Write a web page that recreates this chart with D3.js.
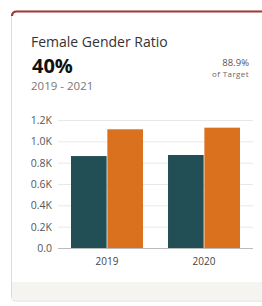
<!DOCTYPE html>
<html>
<head>
<meta charset="utf-8">
<script src="https://cdn.jsdelivr.net/npm/d3@7.9.0/dist/d3.min.js"></script>
<style>
  body { margin: 0; background: #fff; font-family: "Open Sans", "Noto Sans", sans-serif; }
  svg { display: block; }
</style>
</head>
<body>
<svg width="262" height="306"></svg>
<script>
// data
const years = ['2019', '2020'];
const series = ['Actual', 'Target'];
const actualValues = [862, 872];
const targetValues = [1113, 1128];
const yTicks = [0, 200, 400, 600, 800, 1000, 1200];
const yTickLabels = ['0.0', '0.2K', '0.4K', '0.6K', '0.8K', '1.0K', '1.2K'];

const colors = d3.scaleOrdinal().domain(series).range(['#214f55', '#d9711f']);

const svg = d3.select('svg');

// ── card ──────────────────────────────────────────────
svg.append('rect')
  .attr('x', 11.5).attr('y', 11).attr('width', 270).attr('height', 290)
  .attr('rx', 4)
  .attr('fill', '#fff').attr('stroke', '#dcdcdc');
svg.append('rect')
  .attr('x', 12).attr('y', 282).attr('width', 250).attr('height', 18)
  .attr('fill', '#f6f4f1');
svg.append('path')
  .attr('d', 'M12,16 Q12,11.5 17,11.5 L262,11.5')
  .attr('fill', 'none').attr('stroke', '#a3383b').attr('stroke-width', 2.2);

// header texts
svg.append('text').attr('x', 31).attr('y', 47)
  .attr('font-size', 14).attr('fill', '#333').text('Female Gender Ratio');
svg.append('text').attr('x', 32).attr('y', 73)
  .attr('font-size', 20).attr('font-weight', 'bold').attr('fill', '#111').text('40%');
svg.append('text').attr('x', 31).attr('y', 90)
  .attr('font-size', 11.5).attr('fill', '#777').text('2019 - 2021');
svg.append('text').attr('x', 249).attr('y', 66).attr('text-anchor', 'end')
  .attr('font-size', 9.5).attr('fill', '#555').text('88.9%');
svg.append('text').attr('x', 249).attr('y', 77).attr('text-anchor', 'end')
  .attr('font-size', 8).attr('letter-spacing', 0.4).attr('fill', '#666').text('of Target');

// ── chart ─────────────────────────────────────────────
const x0 = d3.scaleBand().domain(years).range([58, 253]).paddingInner(0.258).paddingOuter(0.134);
const x1 = d3.scaleBand().domain(series).range([0, x0.bandwidth()]).paddingInner(0.02);
const y = d3.scaleLinear().domain([0, 1200]).range([248, 120]);

// gridlines
svg.append('g').selectAll('line')
  .data(yTicks.slice(1))
  .join('line')
  .attr('x1', 58).attr('x2', 253)
  .attr('y1', (d) => y(d) + 0.5).attr('y2', (d) => y(d) + 0.5)
  .attr('stroke', '#e8e8e8');

// y axis labels
const yAxis = d3.axisLeft(y).tickValues(yTicks)
  .tickFormat((d, i) => yTickLabels[i]).tickSize(0).tickPadding(6);
const gy = svg.append('g').attr('transform', 'translate(58,0)').call(yAxis);
gy.select('.domain').remove();
gy.selectAll('text').attr('font-size', 10.5).attr('fill', '#555')
  .attr('font-family', '"Open Sans", sans-serif');

// bars
const rows = years.map((yr, i) => ({ year: yr, values: [actualValues[i], targetValues[i]] }));
const groups = svg.append('g').selectAll('g')
  .data(rows).join('g')
  .attr('transform', (d) => `translate(${x0(d.year)},0)`);
groups.selectAll('rect')
  .data((d) => d.values.map((v, j) => ({ key: series[j], value: v })))
  .join('rect')
  .attr('x', (d) => x1(d.key))
  .attr('y', (d) => y(d.value))
  .attr('width', x1.bandwidth())
  .attr('height', (d) => y(0) - y(d.value))
  .attr('fill', (d) => colors(d.key));

// baseline
svg.append('line')
  .attr('x1', 58).attr('x2', 253).attr('y1', y(0) + 0.5).attr('y2', y(0) + 0.5)
  .attr('stroke', '#bbb');

// x axis labels
const xAxis = d3.axisBottom(x0).tickSize(0).tickPadding(10);
const gx = svg.append('g').attr('transform', `translate(0,${y(0)})`).call(xAxis);
gx.select('.domain').remove();
gx.selectAll('text').attr('font-size', 10).attr('fill', '#444')
  .attr('font-family', '"Open Sans", sans-serif');
</script>
</body>
</html>
